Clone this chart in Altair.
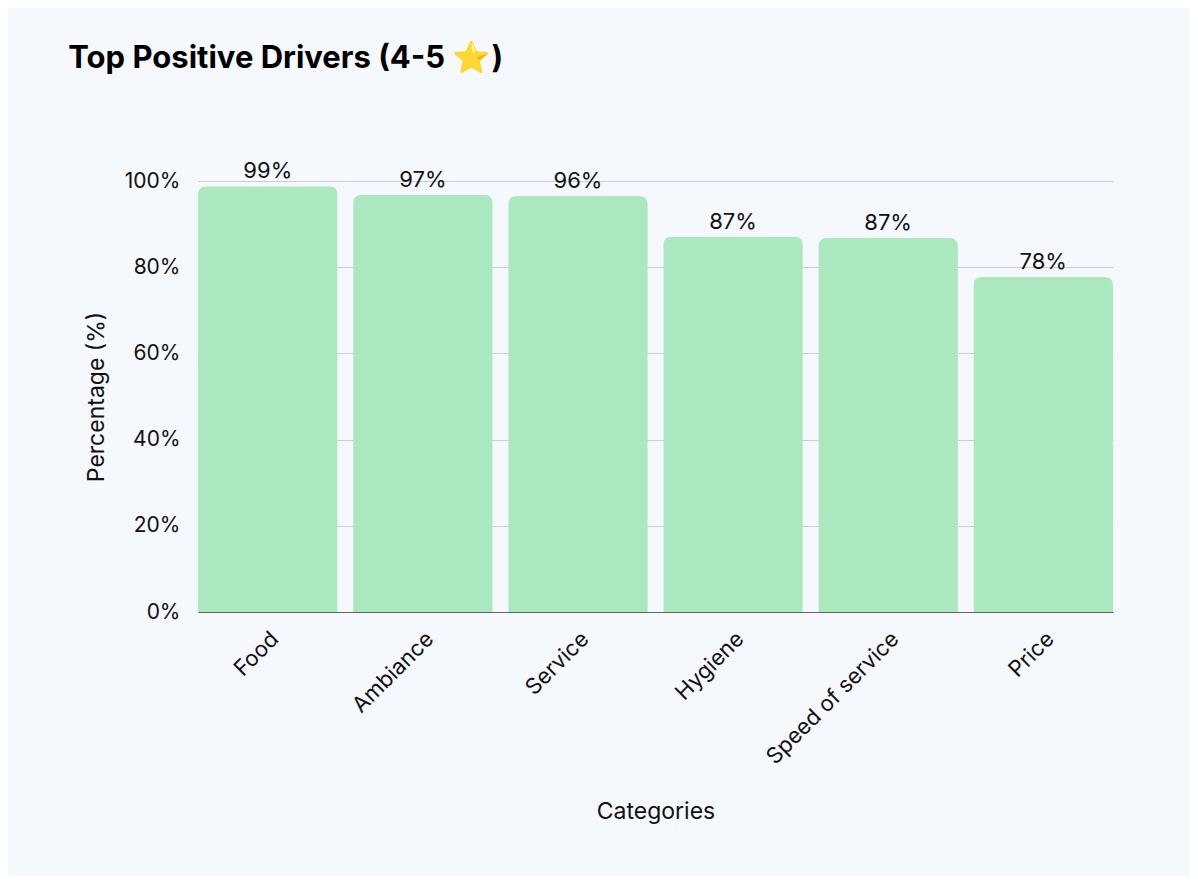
import altair as alt
import pandas as pd

categories = ["Food", "Ambiance", "Service", "Hygiene", "Speed of service", "Price"]
values = [98.8, 96.8, 96.5, 87.1, 86.8, 77.7]
labels = ["99%", "97%", "96%", "87%", "87%", "78%"]

df = pd.DataFrame({"Category": categories, "Value": values, "Label": labels})

FONT = "Inter"
BG = "#f5f8fc"

x = alt.X("Category:N", sort=categories, title="Categories",
          scale=alt.Scale(paddingInner=0.1, paddingOuter=0),
          axis=alt.Axis(labelAngle=-45, labelFontSize=22, titleFontSize=23, labelLimit=400,
                        labelColor="#111", titleColor="#111", titleFontWeight="normal",
                        ticks=False, domainColor="#666", labelPadding=16, titlePadding=33,
                        labelFont=FONT, titleFont=FONT))
y = alt.Y("Value:Q", title="Percentage (%)",
          scale=alt.Scale(domain=[0, 100]),
          axis=alt.Axis(values=[0, 20, 40, 60, 80, 100], labelExpr="datum.value + '%'",
                        labelFontSize=21, titleFontSize=23, labelColor="#111", titleColor="#111",
                        titleFontWeight="normal", ticks=False, domain=False, labelPadding=18,
                        titlePadding=16, gridColor="#c9cdd4", labelFont=FONT, titleFont=FONT))

bars = alt.Chart(df).mark_bar(color="#abe8c0", cornerRadiusTopLeft=8, cornerRadiusTopRight=8).encode(x=x, y=y)
text = alt.Chart(df).mark_text(baseline="bottom", dy=-3, fontSize=22, font=FONT, color="#111").encode(
    x=alt.X("Category:N", sort=categories), y="Value:Q", text="Label:N")

chart = (bars + text).properties(
    width=915, height=431,
    title=alt.TitleParams("Top Positive Drivers (4-5 ⭐)", anchor="start", dx=-17, offset=85,
                          fontSize=31, fontWeight="bold", font=FONT, color="#000"),
    autosize=alt.AutoSizeParams(type="none"),
    padding={"left": 190, "top": 173, "right": 77, "bottom": 264},
    background=BG,
).configure_view(stroke=None)

chart.save("out.html", embed_options={"renderer": "svg", "actions": False})
